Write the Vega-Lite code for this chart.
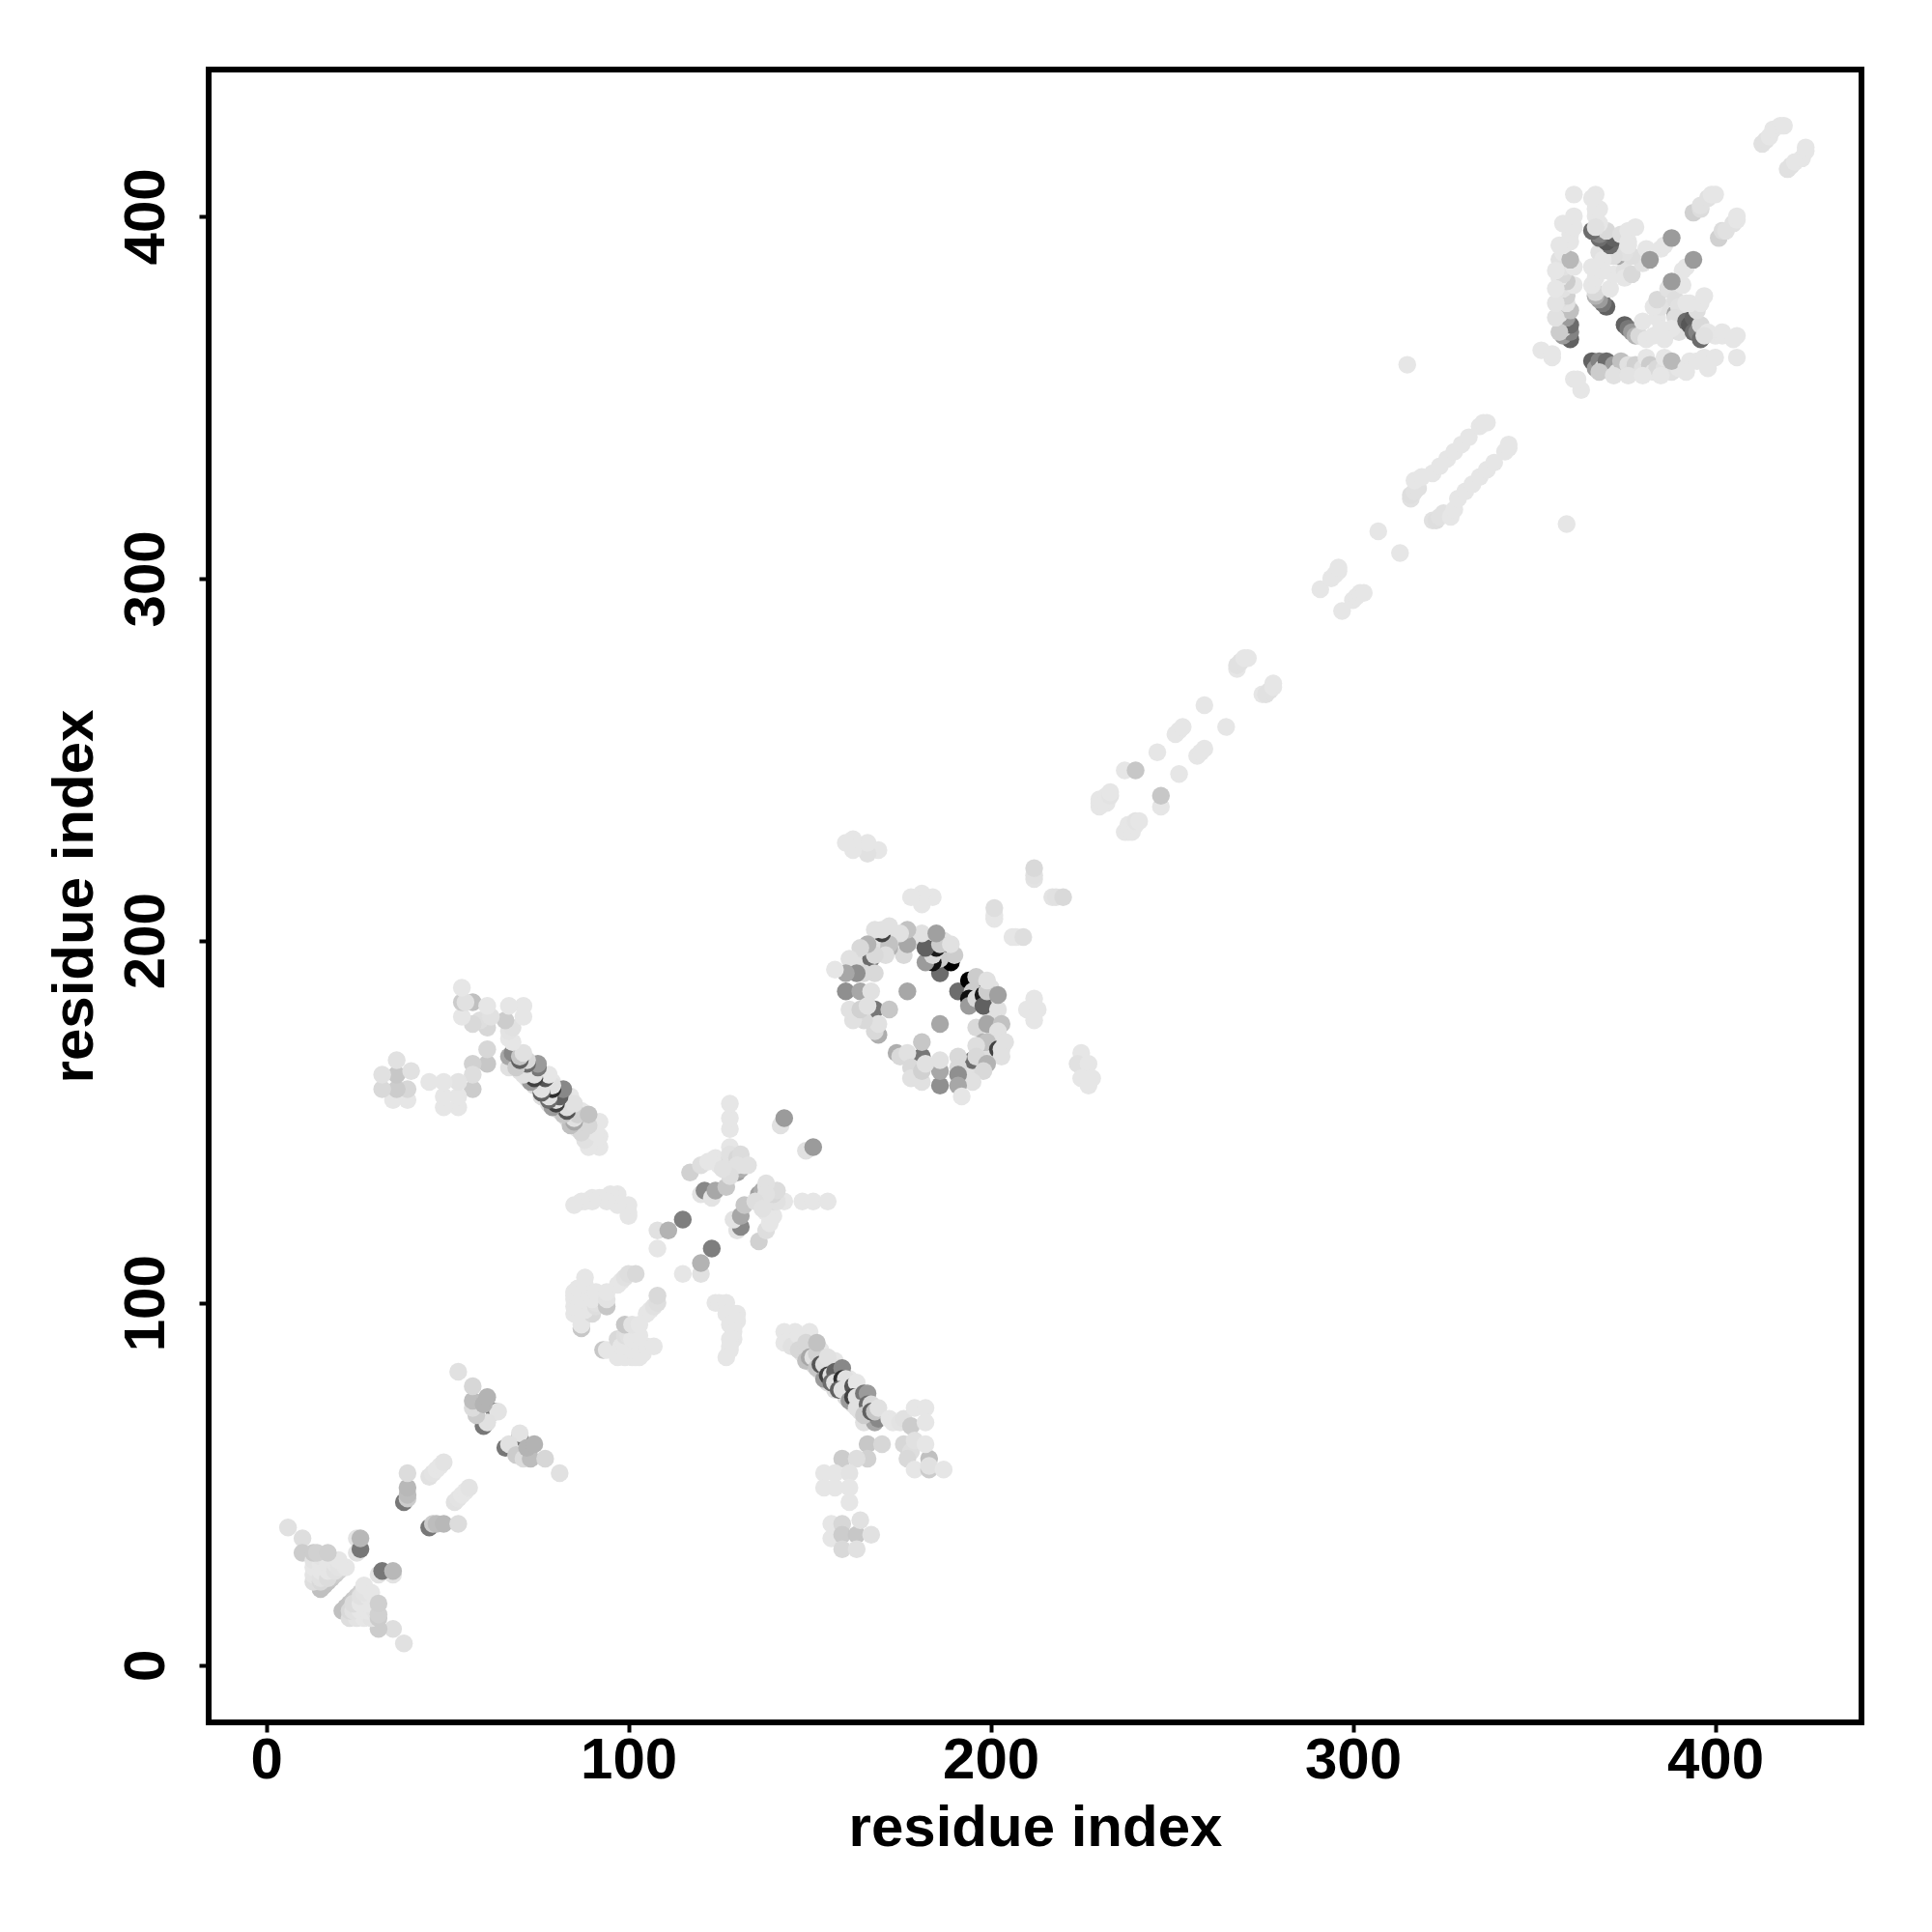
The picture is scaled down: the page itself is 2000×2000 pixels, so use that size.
{"$schema":"https://vega.github.io/schema/vega-lite/v6.json","width":1711,"height":1711,"autosize":"none","padding":{"left":216,"top":72,"right":73,"bottom":217},"background":"white",
"config":{"view":{"stroke":"black","strokeWidth":6},"axis":{"grid":false,"domain":false,"ticks":true,"tickColor":"black","tickWidth":4,"tickSize":10,"labelFont":"Liberation Sans","labelFontWeight":"bold","labelFontSize":60,"labelColor":"black","titleFont":"Liberation Sans","titleFontWeight":"bold","titleFontSize":60,"titleColor":"black"}},
"data":{"values":[
{"i":38,"j":6,"p":0.02},{"i":35,"j":10,"p":0.03},{"i":31,"j":10,"p":0.1},{"i":21,"j":15,"p":0.15},{"i":22,"j":16,"p":0.15},{"i":23,"j":17,"p":0.14},{"i":24,"j":18,"p":0.12},{"i":25,"j":19,"p":0.1},{"i":26,"j":20,"p":0.08},{"i":27,"j":21,"p":0.04},{"i":23,"j":13,"p":0.03},{"i":25,"j":13,"p":0.01},{"i":27,"j":13,"p":0.0},{"i":29,"j":13,"p":0.01},{"i":23,"j":15,"p":0.05},{"i":24,"j":15,"p":0.02},{"i":26,"j":15,"p":0.0},{"i":28,"j":15,"p":0.0},{"i":30,"j":15,"p":0.01},{"i":24,"j":17,"p":0.04},{"i":26,"j":17,"p":0.0},{"i":28,"j":17,"p":0.0},{"i":26,"j":19,"p":0.02},{"i":28,"j":19,"p":0.0},{"i":27,"j":20,"p":0.01},{"i":27,"j":22,"p":0.0},{"i":29,"j":20,"p":0.0},{"i":31,"j":13,"p":0.1},{"i":31,"j":14,"p":0.08},{"i":31,"j":17,"p":0.09},
{"i":35,"j":25,"p":0.01},{"i":31,"j":25,"p":0.01},{"i":32,"j":26,"p":0.45},{"i":35,"j":26,"p":0.18},
{"i":45,"j":38,"p":0.45},{"i":46,"j":39,"p":0.1},{"i":47,"j":39,"p":0.16},{"i":49,"j":39,"p":0.18},{"i":53,"j":39,"p":0.04},
{"i":52,"j":45,"p":0.02},{"i":53,"j":46,"p":0.01},{"i":54,"j":47,"p":0.0},{"i":55,"j":48,"p":0.0},{"i":56,"j":49,"p":0.01},
{"i":70,"j":63,"p":0.45},{"i":70,"j":64,"p":0.01},{"i":66,"j":60,"p":0.45},{"i":67,"j":61,"p":0.02},{"i":69,"j":58,"p":0.1},{"i":71,"j":57,"p":0.04},{"i":73,"j":57,"p":0.16},{"i":72,"j":60,"p":0.2},{"i":74,"j":61,"p":0.2},{"i":77,"j":57,"p":0.06},{"i":81,"j":53,"p":0.02},
{"i":93,"j":87,"p":0.12},{"i":94,"j":87,"p":0.0},{"i":96,"j":87,"p":0.0},{"i":97,"j":90,"p":0.05},{"i":97,"j":85,"p":0.0},{"i":99,"j":85,"p":0.0},{"i":101,"j":85,"p":0.0},{"i":102,"j":85,"p":0.0},{"i":103,"j":85,"p":0.0},{"i":98,"j":88,"p":0.0},{"i":99,"j":88,"p":0.0},{"i":100,"j":88,"p":0.0},{"i":101,"j":87,"p":0.0},{"i":103,"j":88,"p":0.0},{"i":104,"j":86,"p":0.0},{"i":105,"j":88,"p":0.0},{"i":107,"j":88,"p":0.0},{"i":99,"j":91,"p":0.03},{"i":100,"j":91,"p":0.02},{"i":101,"j":90,"p":0.0},{"i":102,"j":92,"p":0.0},{"i":103,"j":91,"p":0.0},{"i":99,"j":94,"p":0.12},{"i":101,"j":94,"p":0.01},{"i":103,"j":94,"p":0.0},
{"i":105,"j":97,"p":0.0},{"i":106,"j":98,"p":0.0},{"i":107,"j":99,"p":0.02},{"i":108,"j":100,"p":0.03},{"i":108,"j":102,"p":0.05},
{"i":124,"j":100,"p":0.0},{"i":125,"j":100,"p":0.0},{"i":127,"j":100,"p":0.0},{"i":127,"j":97,"p":0.0},{"i":128,"j":96,"p":0.0},{"i":129,"j":97,"p":0.0},{"i":130,"j":97,"p":0.0},{"i":130,"j":95,"p":0.0},{"i":128,"j":94,"p":0.0},{"i":129,"j":93,"p":0.0},{"i":129,"j":92,"p":0.0},{"i":129,"j":90,"p":0.0},{"i":128,"j":90,"p":0.0},{"i":128,"j":88,"p":0.0},{"i":128,"j":87,"p":0.0},{"i":127,"j":85,"p":0.0},
{"i":115,"j":108,"p":0.0},{"i":120,"j":108,"p":0.02},{"i":120,"j":111,"p":0.2},{"i":123,"j":115,"p":0.42},
{"i":136,"j":117,"p":0.08},{"i":138,"j":120,"p":0.03},{"i":139,"j":122,"p":0.0},{"i":140,"j":124,"p":0.0},{"i":138,"j":125,"p":0.0},{"i":137,"j":127,"p":0.01},{"i":136,"j":130,"p":0.28},{"i":137,"j":131,"p":0.22},{"i":138,"j":132,"p":0.02},{"i":141,"j":129,"p":0.02},{"i":143,"j":128,"p":0.0},{"i":148,"j":128,"p":0.0},{"i":151,"j":128,"p":0.0},{"i":155,"j":128,"p":0.0},
{"i":130,"j":120,"p":0.01},{"i":131,"j":121,"p":0.38},{"i":129,"j":123,"p":0.01},{"i":131,"j":124,"p":0.25},{"i":132,"j":127,"p":0.12},{"i":139,"j":130,"p":0.45},{"i":139,"j":131,"p":0.08},{"i":140,"j":128,"p":0.04},{"i":141,"j":128,"p":0.02},{"i":140,"j":130,"p":0.06},{"i":141,"j":131,"p":0.04},{"i":138,"j":133,"p":0.02},{"i":138,"j":130,"p":0.02},{"i":135,"j":128,"p":0.03},{"i":137,"j":126,"p":0.02},
{"i":149,"j":142,"p":0.02},{"i":151,"j":143,"p":0.3},
{"i":148,"j":86,"p":0.0},{"i":151,"j":83,"p":0.03},{"i":153,"j":81,"p":0.02},{"i":155,"j":78,"p":0.04},{"i":157,"j":76,"p":0.03},{"i":160,"j":74,"p":0.04},{"i":162,"j":72,"p":0.02},{"i":164,"j":70,"p":0.02},{"i":166,"j":68,"p":0.03},{"i":151,"j":88,"p":0.0},{"i":153,"j":87,"p":0.0},{"i":157,"j":84,"p":0.0},{"i":158,"j":82,"p":0.02},{"i":161,"j":79,"p":0.0},{"i":165,"j":74,"p":0.02},
{"i":143,"j":92,"p":0.0},{"i":146,"j":92,"p":0.0},{"i":150,"j":92,"p":0.0},{"i":143,"j":89,"p":0.0},{"i":145,"j":88,"p":0.02},{"i":147,"j":91,"p":0.0},{"i":147,"j":87,"p":0.06},{"i":149,"j":89,"p":0.06},{"i":149,"j":84,"p":0.15},{"i":150,"j":85,"p":0.25},{"i":151,"j":85,"p":0.02},{"i":152,"j":86,"p":0.08},{"i":152,"j":89,"p":0.14},{"i":152,"j":82,"p":0.12},{"i":153,"j":83,"p":0.6},{"i":154,"j":83,"p":0.03},{"i":155,"j":85,"p":0.02},{"i":154,"j":79,"p":0.3},{"i":155,"j":80,"p":0.7},{"i":156,"j":80,"p":0.02},{"i":157,"j":81,"p":0.55},{"i":159,"j":82,"p":0.38},{"i":156,"j":78,"p":0.5},{"i":157,"j":78,"p":0.02},{"i":159,"j":79,"p":0.8},{"i":160,"j":79,"p":0.02},{"i":158,"j":76,"p":0.55},{"i":159,"j":76,"p":0.02},{"i":162,"j":77,"p":0.6},{"i":163,"j":78,"p":0.0},{"i":161,"j":73,"p":0.3},{"i":162,"j":74,"p":0.7},{"i":163,"j":74,"p":0.02},{"i":165,"j":75,"p":0.45},{"i":166,"j":75,"p":0.3},{"i":163,"j":71,"p":0.02},{"i":166,"j":72,"p":0.5},{"i":167,"j":72,"p":0.05},{"i":165,"j":67,"p":0.02},{"i":168,"j":67,"p":0.25},{"i":165,"j":69,"p":0.1},{"i":169,"j":68,"p":0.38},{"i":167,"j":70,"p":0.55},{"i":168,"j":70,"p":0.12},{"i":169,"j":71,"p":0.02},
{"i":172,"j":68,"p":0.0},{"i":173,"j":67,"p":0.0},{"i":175,"j":67,"p":0.01},{"i":176,"j":68,"p":0.02},{"i":178,"j":66,"p":0.1},{"i":179,"j":71,"p":0.0},{"i":182,"j":71,"p":0.0},{"i":182,"j":67,"p":0.0},{"i":176,"j":61,"p":0.06},{"i":178,"j":59,"p":0.03},{"i":179,"j":62,"p":0.02},{"i":177,"j":57,"p":0.05},{"i":183,"j":57,"p":0.15},{"i":182,"j":61,"p":0.0},{"i":179,"j":54,"p":0.0},{"i":183,"j":54,"p":0.1},{"i":183,"j":55,"p":0.02},{"i":187,"j":54,"p":0.0},
{"i":166,"j":61,"p":0.12},{"i":170,"j":61,"p":0.06},{"i":166,"j":57,"p":0.08},{"i":159,"j":57,"p":0.1},{"i":163,"j":57,"p":0.03},{"i":154,"j":53,"p":0.0},{"i":157,"j":53,"p":0.0},{"i":161,"j":53,"p":0.01},{"i":154,"j":49,"p":0.0},{"i":157,"j":49,"p":0.0},{"i":161,"j":49,"p":0.0},{"i":161,"j":45,"p":0.0},
{"i":156,"j":39,"p":0.0},{"i":156,"j":35,"p":0.0},{"i":159,"j":39,"p":0.06},{"i":159,"j":36,"p":0.1},{"i":163,"j":36,"p":0.12},{"i":164,"j":40,"p":0.02},{"i":167,"j":36,"p":0.02},{"i":159,"j":32,"p":0.05},{"i":163,"j":32,"p":0.02},
{"i":197,"j":186,"p":0.02},{"i":200,"j":187,"p":0.02},{"i":200,"j":183,"p":0.02},{"i":200,"j":179,"p":0.02},{"i":196,"j":176,"p":0.05},{"i":201,"j":174,"p":0.05},{"i":200,"j":170,"p":0.02},{"i":197,"j":169,"p":0.03},{"i":194,"j":165,"p":0.03},{"i":193,"j":163,"p":0.02},
{"i":191,"j":186,"p":0.5},{"i":194,"j":189,"p":1.0},{"i":197,"j":188,"p":0.7},{"i":195,"j":186,"p":0.1},{"i":194,"j":184,"p":0.95},{"i":194,"j":182,"p":0.3},{"i":196,"j":184,"p":0.05},{"i":198,"j":185,"p":0.9},{"i":198,"j":182,"p":0.55},{"i":199,"j":186,"p":0.1},{"i":196,"j":190,"p":0.1},{"i":199,"j":189,"p":0.02},{"i":202,"j":181,"p":0.02},{"i":202,"j":185,"p":0.28},{"i":199,"j":177,"p":0.25},{"i":203,"j":177,"p":0.14},{"i":202,"j":175,"p":0.02},{"i":198,"j":172,"p":0.2},{"i":199,"j":172,"p":0.14},{"i":202,"j":170,"p":0.7},{"i":203,"j":170,"p":0.02},{"i":204,"j":172,"p":0.02},{"i":203,"j":168,"p":0.02},{"i":196,"j":171,"p":0.03},{"i":195,"j":167,"p":0.5},{"i":196,"j":168,"p":0.05},{"i":199,"j":166,"p":0.2},{"i":198,"j":164,"p":0.05},{"i":195,"j":161,"p":0.02},{"i":191,"j":168,"p":0.05},{"i":191,"j":165,"p":0.05},{"i":191,"j":163,"p":0.35},{"i":191,"j":160,"p":0.25},{"i":192,"j":157,"p":0.0},
{"i":186,"j":160,"p":0.35},{"i":186,"j":164,"p":0.25},{"i":186,"j":167,"p":0.02},{"i":181,"j":168,"p":0.45},{"i":181,"j":172,"p":0.12},{"i":174,"j":169,"p":0.22},{"i":175,"j":168,"p":0.05},{"i":177,"j":169,"p":0.02},{"i":178,"j":165,"p":0.05},{"i":178,"j":162,"p":0.02},{"i":181,"j":161,"p":0.02},{"i":181,"j":164,"p":0.08},{"i":182,"j":166,"p":0.02},{"i":186,"j":177,"p":0.25},
{"i":212,"j":184,"p":0.0},{"i":210,"j":181,"p":0.0},{"i":213,"j":181,"p":0.0},{"i":212,"j":178,"p":0.0},{"i":225,"j":169,"p":0.0},{"i":224,"j":166,"p":0.02},{"i":227,"j":166,"p":0.0},{"i":225,"j":162,"p":0.0},{"i":228,"j":162,"p":0.0},{"i":227,"j":160,"p":0.0},
{"i":206,"j":201,"p":0.0},{"i":207,"j":201,"p":0.0},{"i":209,"j":201,"p":0.03},{"i":217,"j":212,"p":0.01},{"i":218,"j":212,"p":0.02},{"i":220,"j":212,"p":0.05},
{"i":237,"j":230,"p":0.0},{"i":238,"j":230,"p":0.0},{"i":239,"j":230,"p":0.0},{"i":238,"j":232,"p":0.0},{"i":239,"j":232,"p":0.0},{"i":240,"j":232,"p":0.0},{"i":240,"j":233,"p":0.01},{"i":241,"j":233,"p":0.0},{"i":247,"j":237,"p":0.0},{"i":247,"j":240,"p":0.12},{"i":252,"j":246,"p":0.0},{"i":257,"j":251,"p":0.0},{"i":258,"j":252,"p":0.0},{"i":259,"j":253,"p":0.0},{"i":265,"j":259,"p":0.0},
{"i":275,"j":268,"p":0.0},{"i":276,"j":268,"p":0.02},{"i":277,"j":269,"p":0.02},{"i":278,"j":270,"p":0.0},{"i":278,"j":271,"p":0.0},
{"i":297,"j":291,"p":0.0},{"i":300,"j":294,"p":0.0},{"i":301,"j":295,"p":0.0},{"i":302,"j":296,"p":0.0},{"i":303,"j":296,"p":0.0},{"i":313,"j":307,"p":0.0},
{"i":322,"j":316,"p":0.02},{"i":323,"j":316,"p":0.03},{"i":324,"j":317,"p":0.02},{"i":325,"j":318,"p":0.02},{"i":327,"j":317,"p":0.0},{"i":328,"j":319,"p":0.0},{"i":329,"j":322,"p":0.0},{"i":331,"j":324,"p":0.0},{"i":333,"j":326,"p":0.0},{"i":335,"j":328,"p":0.0},{"i":337,"j":330,"p":0.0},{"i":339,"j":332,"p":0.0},{"i":342,"j":335,"p":0.0},{"i":343,"j":336,"p":0.0},{"i":343,"j":337,"p":0.0},{"i":359,"j":315,"p":0.0},
{"i":363,"j":352,"p":0.0},{"i":361,"j":355,"p":0.0},{"i":362,"j":355,"p":0.0},
{"i":366,"j":360,"p":0.55},{"i":367,"j":358,"p":0.3},{"i":368,"j":360,"p":0.4},{"i":369,"j":358,"p":0.05},{"i":370,"j":360,"p":0.5},{"i":372,"j":359,"p":0.3},{"i":373,"j":357,"p":0.02},{"i":374,"j":360,"p":0.15},{"i":376,"j":359,"p":0.02},{"i":377,"j":357,"p":0.03},{"i":378,"j":359,"p":0.08},{"i":380,"j":358,"p":0.02},{"i":381,"j":361,"p":0.0},{"i":382,"j":359,"p":0.1},{"i":383,"j":357,"p":0.0},{"i":384,"j":358,"p":0.05},{"i":386,"j":358,"p":0.02},{"i":388,"j":357,"p":0.02},{"i":386,"j":361,"p":0.0},{"i":390,"j":358,"p":0.0},{"i":388,"j":360,"p":0.18},{"i":392,"j":358,"p":0.0},{"i":393,"j":360,"p":0.0},{"i":395,"j":360,"p":0.0},{"i":397,"j":361,"p":0.0},{"i":400,"j":361,"p":0.0},{"i":406,"j":361,"p":0.0},
{"i":375,"j":370,"p":0.55},{"i":376,"j":369,"p":0.45},{"i":377,"j":368,"p":0.3},{"i":378,"j":367,"p":0.2},{"i":379,"j":367,"p":0.05},{"i":381,"j":366,"p":0.0},{"i":383,"j":367,"p":0.0},{"i":380,"j":371,"p":0.0},{"i":384,"j":372,"p":0.0},{"i":385,"j":375,"p":0.02},{"i":383,"j":375,"p":0.0},{"i":384,"j":377,"p":0.05},{"i":387,"j":380,"p":0.02},{"i":389,"j":377,"p":0.03},{"i":389,"j":373,"p":0.25},{"i":390,"j":375,"p":0.02},{"i":389,"j":372,"p":0.03},{"i":390,"j":368,"p":0.02},{"i":388,"j":369,"p":0.0},{"i":385,"j":369,"p":0.0},{"i":386,"j":366,"p":0.0},
{"i":392,"j":371,"p":0.5},{"i":393,"j":370,"p":0.6},{"i":394,"j":372,"p":0.55},{"i":394,"j":368,"p":0.5},{"i":395,"j":368,"p":0.4},{"i":396,"j":370,"p":0.05},{"i":395,"j":374,"p":0.03},{"i":393,"j":376,"p":0.0},{"i":396,"j":376,"p":0.0},{"i":397,"j":378,"p":0.0},{"i":398,"j":368,"p":0.0},{"i":400,"j":367,"p":0.0},{"i":402,"j":367,"p":0.0},{"i":406,"j":367,"p":0.0},{"i":391,"j":381,"p":0.0},{"i":392,"j":376,"p":0.0},{"i":391,"j":385,"p":0.0},{"i":392,"j":386,"p":0.0},{"i":388,"j":382,"p":0.3},{"i":394,"j":388,"p":0.3},
{"i":401,"j":394,"p":0.08},{"i":402,"j":396,"p":0.04},{"i":403,"j":396,"p":0.02},{"i":405,"j":398,"p":0.02},{"i":406,"j":399,"p":0.0},{"i":406,"j":400,"p":0.0},
{"i":396,"j":366,"p":0.5},{"i":397,"j":367,"p":0.02},{"i":402,"j":368,"p":0.0},{"i":405,"j":366,"p":0.0},
{"i":368,"j":357,"p":0.1},{"i":372,"j":356,"p":0.02},{"i":376,"j":356,"p":0.01},{"i":380,"j":356,"p":0.0},{"i":385,"j":356,"p":0.0},{"i":392,"j":357,"p":0.0},{"i":398,"j":358,"p":0.0},
{"i":420,"j":413,"p":0.02},{"i":421,"j":414,"p":0.02},{"i":422,"j":415,"p":0.0},{"i":424,"j":416,"p":0.0},{"i":425,"j":418,"p":0.0},{"i":425,"j":419,"p":0.0}
]},
"layer":[
{"mark":{"type":"point","filled":true,"opacity":1,"size":340,"shape":"circle"},"encoding":{
"x":{"field":"i","type":"quantitative","scale":{"domain":[-15.9,440.4],"nice":false,"zero":false},"axis":{"values":[0,100,200,300,400],"title":"residue index","labelPadding":0,"titlePadding":11,"labelFlush":false,"labelOverlap":false}},
"y":{"field":"j","type":"quantitative","scale":{"domain":[-15.8,440.5],"nice":false,"zero":false},"axis":{"values":[0,100,200,300,400],"title":"residue index","labelAngle":-90,"labelAlign":"center","labelBaseline":"bottom","labelPadding":24,"titlePadding":13,"labelFlush":false,"labelOverlap":false}},
"color":{"field":"p","type":"quantitative","legend":null,"scale":{"domain":[0,1],"range":["#e6e6e6","#000000"]}}}},
{"mark":{"type":"point","filled":true,"opacity":1,"size":340,"shape":"circle"},"encoding":{
"x":{"field":"j","type":"quantitative"},
"y":{"field":"i","type":"quantitative"},
"color":{"field":"p","type":"quantitative","legend":null}}}
]}
